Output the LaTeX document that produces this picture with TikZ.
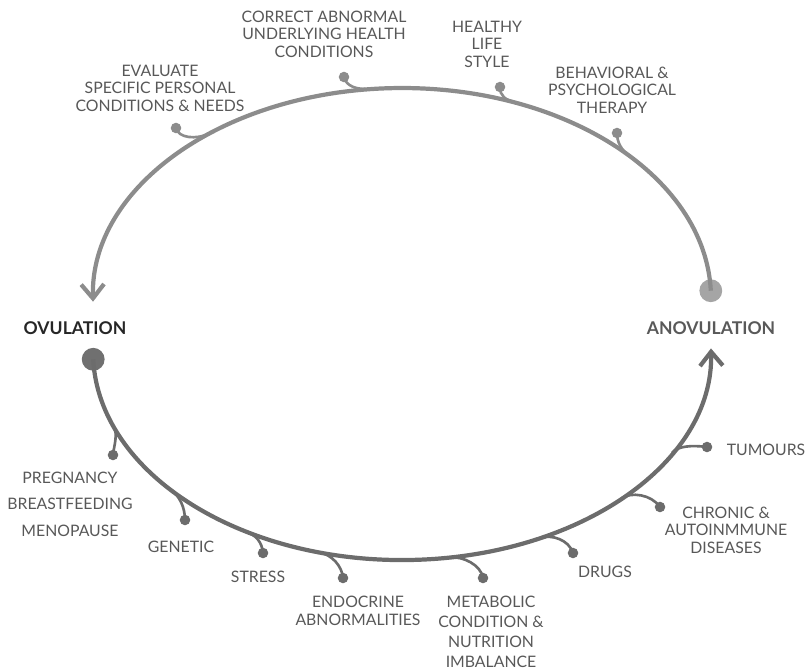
\documentclass[tikz,border=0pt]{standalone}
\usepackage{fontspec}
\setmainfont{Lato}
\usepackage{tikz}
\usetikzlibrary{arrows.meta}
\definecolor{uparc}   {RGB}{140, 140, 140}
\definecolor{lowarc}  {RGB}{108, 108, 108}
\definecolor{anofill} {RGB}{165, 165, 165}
\definecolor{ovfill}  {RGB}{112, 112, 112}
\definecolor{lblgray} {RGB}{ 88,  88,  88}

\begin{document}
\begin{tikzpicture}[x=0.02cm,y=-0.02cm,
		lbl/.style={text=lblgray,font=\fontsize{9}{10}\selectfont,align=center,inner sep=0pt},
		state/.style={font=\bfseries\fontsize{10}{12}\selectfont,inner sep=0pt},
		bigdot/.style={circle,minimum size=13pt,inner sep=0pt},
		twigdot/.style={circle,minimum size=6pt,inner sep=0pt},
		mainline/.style={line width=2.4pt,-{Straight Barb[length=8pt,width=13pt]}},
		twig/.style={line width=1.5pt}
	]
	\useasboundingbox (0,0) rectangle (807,669);
	% the two states
	\node[bigdot,fill=anofill] (anodot) at (710.8,290.7) {};
	\node[bigdot,fill=ovfill] (ovdot) at (93.2,359.3) {};
	\node[state,text=black!85] (ovul) at (75,328) {OVULATION};
	\node[state,text=black!65] (anovul) at (711,328) {ANOVULATION};
	% upper arc: back to ovulation
	\draw[mainline,draw=uparc] (anodot.center) arc[start angle=-2,end angle=-181,x radius=309,y radius=210];
	% lower arc: towards anovulation
	\draw[mainline,draw=lowarc] (ovdot.center) arc[start angle=178,end angle=-1,x radius=309,y radius=208];

	% treatments on the upper arc
	\coordinate (j-eval) at (210,133.4);
	\coordinate (j-corr) at (372,89);
	\coordinate (j-life) at (517,103);
	\coordinate (j-ther) at (630,156.4);
	\node[twigdot,fill=uparc] (d-eval) at (176,128) {};
	\node[twigdot,fill=uparc] (d-corr) at (344,77) {};
	\node[twigdot,fill=uparc] (d-life) at (500,87) {};
	\node[twigdot,fill=uparc] (d-ther) at (617,133) {};
	\draw[twig,draw=uparc] (d-eval.center) .. controls (178,138) and (196,140) .. (j-eval);
	\draw[twig,draw=uparc] (d-corr.center) .. controls (346,86) and (356,90) .. (j-corr);
	\draw[twig,draw=uparc] (d-life.center) .. controls (500,96) and (505,100) .. (j-life);
	\draw[twig,draw=uparc] (d-ther.center) .. controls (617,142) and (621,150) .. (j-ther);
	\node[lbl] (eval) at (160,88) {EVALUATE\\SPECIFIC PERSONAL\\CONDITIONS \& NEEDS};
	\node[lbl] (corr) at (324,34) {CORRECT ABNORMAL\\UNDERLYING HEALTH\\CONDITIONS};
	\node[lbl] (life) at (487,44) {HEALTHY\\LIFE\\STYLE};
	\node[lbl] (ther) at (612,90) {BEHAVIORAL \&\\PSYCHOLOGICAL\\THERAPY};

	% causes on the lower arc
	\coordinate (j-preg) at (115,429);
	\coordinate (j-gene) at (170,489);
	\coordinate (j-stre) at (245,531);
	\coordinate (j-endo) at (320,552.5);
	\coordinate (j-meta) at (450,557.5);
	\coordinate (j-drug) at (540,538);
	\coordinate (j-chro) at (622,498);
	\coordinate (j-tumo) at (672,453);
	\node[twigdot,fill=lowarc] (d-preg) at (113,455) {};
	\node[twigdot,fill=lowarc] (d-gene) at (185,520) {};
	\node[twigdot,fill=lowarc] (d-stre) at (263,553) {};
	\node[twigdot,fill=lowarc] (d-endo) at (343,578) {};
	\node[twigdot,fill=lowarc] (d-meta) at (483,578) {};
	\node[twigdot,fill=lowarc] (d-drug) at (573,553) {};
	\node[twigdot,fill=lowarc] (d-chro) at (660,507) {};
	\node[twigdot,fill=lowarc] (d-tumo) at (707,447) {};
	\draw[twig,draw=lowarc] (j-preg) .. controls (117,438) and (114,446) .. (d-preg.center);
	\draw[twig,draw=lowarc] (j-gene) .. controls (180,496) and (185,508) .. (d-gene.center);
	\draw[twig,draw=lowarc] (j-stre) .. controls (256,535) and (262,542) .. (d-stre.center);
	\draw[twig,draw=lowarc] (j-endo) .. controls (332,555) and (342,566) .. (d-endo.center);
	\draw[twig,draw=lowarc] (j-meta) .. controls (463,556) and (481,565) .. (d-meta.center);
	\draw[twig,draw=lowarc] (j-drug) .. controls (552,534) and (569,540) .. (d-drug.center);
	\draw[twig,draw=lowarc] (j-chro) .. controls (631,492) and (651,494) .. (d-chro.center);
	\draw[twig,draw=lowarc] (j-tumo) .. controls (677,446) and (692,445) .. (d-tumo.center);
	\node[lbl,font=\fontsize{9}{15}\selectfont] (preg) at (70,504) {PREGNANCY\\BREASTFEEDING\\MENOPAUSE};
	\node[lbl] (gene) at (181,547) {GENETIC};
	\node[lbl] (stre) at (258,577) {STRESS};
	\node[lbl] (endo) at (358,611) {ENDOCRINE\\ABNORMALITIES};
	\node[lbl,font=\fontsize{9}{11.3}\selectfont] (meta) at (491,632) {METABOLIC\\CONDITION \&\\NUTRITION\\IMBALANCE};
	\node[lbl] (drug) at (605,572) {DRUGS};
	\node[lbl] (chro) at (726,530) {CHRONIC \&\\AUTOINMMUNE\\DISEASES};
	\node[lbl] (tumo) at (766,450) {TUMOURS};
\end{tikzpicture}
\end{document}
